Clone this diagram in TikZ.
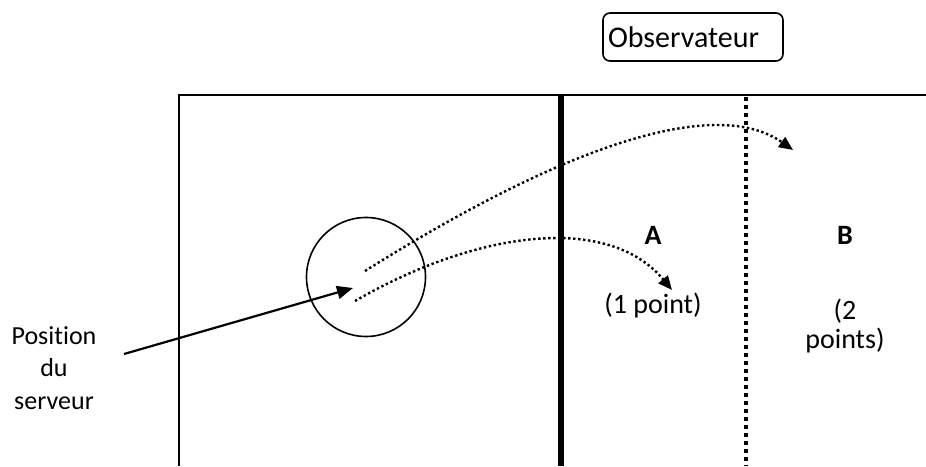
\documentclass[tikz,border=0pt]{standalone}
\usepackage{fontspec}
\setmainfont{Carlito}[Ligatures={NoCommon}]
\usepackage{tikz}
\usetikzlibrary{arrows.meta,positioning}
\tikzset{
  txt/.style={font=\fontsize{28}{32.5}\selectfont, align=center, inner sep=0pt},
  boldtxt/.style={txt, font=\fontsize{28}{32.5}\selectfont\bfseries},
  obsbox/.style={draw, rounded corners=7pt, line width=1.6pt, minimum width=180pt,
                 minimum height=48pt, text width=170pt, align=left, inner sep=5pt,
                 font=\fontsize{30}{32}\selectfont},
  frame/.style={line width=1.6pt},
  netline/.style={line width=5.5pt},
  farline/.style={line width=4pt, dash pattern=on 4pt off 4pt},
  server/.style={draw, circle, line width=1.6pt, minimum size=119pt, inner sep=0pt},
  arrow/.style={-{Triangle[length=16pt, width=13pt]}, line width=2.2pt},
  dotarrow/.style={-{Triangle[length=14pt, width=12pt]}, line width=2.4pt,
                   dash pattern=on 2.4pt off 2.6pt},
}

\begin{document}
\begin{tikzpicture}[x=1pt, y=1pt]
\useasboundingbox (0,0) rectangle (926,466);

% ---------------- court ----------------
\draw[frame] (926,371) -- (179,371) -- (179,0);
\draw[netline] (561,371) -- (561,0);
\draw[farline] (745.5,369) -- (745.5,0);

\node[obsbox] (obs) at (693,429) {Observateur};

% ---------------- zones ----------------
\node[boldtxt, anchor=base] (zA) at (653,221) {A};
\node[txt, anchor=base] (ptA) at (653,152) {(1 point)};
\node[boldtxt, anchor=base] (zB) at (845,221) {B};
\node[txt, font=\fontsize{28}{29}\selectfont] (ptB) at (845,140) {(2\\points)};

% ---------------- server ----------------
\node[server] (srv) at (366,189) {};
\node[txt, font=\fontsize{26}{32.5}\selectfont] (pos) at (54,98) {Position\\du\\serveur};

\coordinate (posend) at (124,112);
\coordinate (srvpt) at (353,178);
\draw[arrow] (posend) -- (srvpt);

% short shot into A, long shot into B
\coordinate (shotA) at (355,165);
\coordinate (landA) at (672,176);
\coordinate (shotB) at (365,195);
\coordinate (landB) at (793,316);
\draw[dotarrow] (shotA) .. controls (476,235) and (608,253) .. (landA);
\draw[dotarrow] (shotB) .. controls (577,328) and (719,368) .. (landB);
\end{tikzpicture}
\end{document}
